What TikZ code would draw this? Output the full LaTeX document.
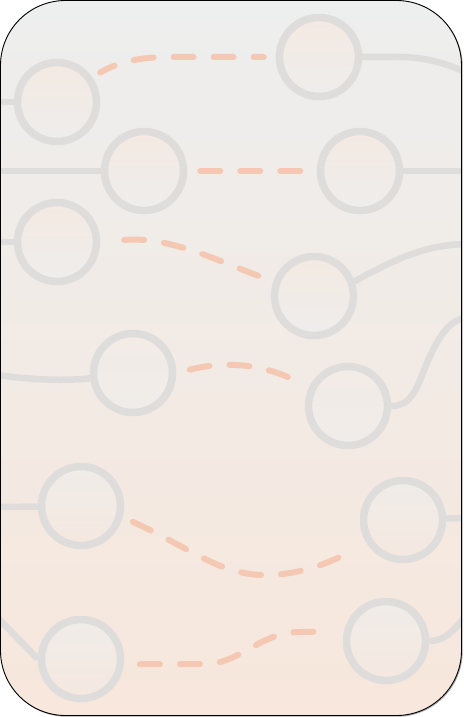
\documentclass[tikz,border=0pt]{standalone}
\definecolor{bgtop}{HTML}{EDEEEE}
\definecolor{bgbot}{HTML}{F7E7DC}
\definecolor{ring}{HTML}{DEDDDC}
\definecolor{dashc}{HTML}{F4C8B3}
\tikzset{
  hub/.style={circle, minimum size=79pt, inner sep=0pt, line width=7.5pt, draw=ring},
  hubA/.style={hub, top color={rgb,255:red,244;green,233;blue,226}, bottom color={rgb,255:red,238;green,237;blue,236}},
  hubB/.style={hub, top color={rgb,255:red,242;green,235;blue,230}, bottom color={rgb,255:red,240;green,236;blue,233}},
  hubC/.style={hub, top color={rgb,255:red,240;green,236;blue,233}, bottom color={rgb,255:red,245;green,232;blue,224}},
  wire/.style={draw=ring, line width=6.5pt},
  link/.style={draw=dashc, line width=6pt, line cap=round, dash pattern=on 20pt off 20pt},
}
\begin{document}
\begin{tikzpicture}[x=1pt,y=-1pt]
\useasboundingbox (0,0) rectangle (463,717);
% shadow and background
\draw[black!35, line width=1pt, rounded corners=65pt] (1.6,1.6) rectangle (462.2,716.2);
\fill[top color=bgtop, bottom color=bgbot, rounded corners=65pt] (0.5,0.5) rectangle (461.5,715.5);
\begin{scope}
\clip[rounded corners=65pt] (0.5,0.5) rectangle (461.5,715.5);
% circles
\node[hubA] (c1) at (57,102) {};
\node[hubA] (c2) at (319,57) {};
\node[hubA] (c3) at (144,171) {};
\node[hubA] (c4) at (360,171) {};
\node[hubA] (c5) at (57,242) {};
\node[hubA] (c6) at (314,296) {};
\node[hubB] (c7) at (133,373) {};
\node[hubB] (c8) at (348,406) {};
\node[hubC] (c9) at (81,506) {};
\node[hubC] (c10) at (403,520) {};
\node[hubC] (c11) at (81,659) {};
\node[hubC] (c12) at (386,641) {};
% edge coordinates
\coordinate (e1) at (-2,102);
\coordinate (e2) at (465,72);
\coordinate (e3) at (-2,171);
\coordinate (e4) at (465,171);
\coordinate (e5) at (-2,242);
\coordinate (e6) at (465,244);
\coordinate (e7) at (-2,375);
\coordinate (e8) at (465,318);
\coordinate (e9) at (-2,507);
\coordinate (e10) at (465,518);
\coordinate (e11) at (-2,618);
\coordinate (e12) at (465,616);
% gray wires
\draw[wire] (e1) -- (c1);
\draw[wire] (c2.east) -- (398,57) .. controls (425,57) and (445,63) .. (e2);
\draw[wire] (e3) -- (c3);
\draw[wire] (c4) -- (e4);
\draw[wire] (e5) -- (c5);
\draw[wire] (c6.20) .. controls (385,265) and (420,245) .. (e6);
\draw[wire] (e7) .. controls (30,380) and (70,381) .. (c7.187);
\draw[wire] (c8.east) .. controls (415,406) and (418,382) .. (430,356) .. controls (440,335) and (450,320) .. (e8);
\draw[wire] (e9) -- (c9);
\draw[wire] (c10) -- (e10);
\draw[wire] (e11) -- (c11.west);
\draw[wire] (c12.east) .. controls (445,641) and (455,630) .. (e12);
% dashed links
\draw[link, dash phase=4pt, shorten <=9pt, shorten >=12pt] (c1.35) .. controls (118,62) and (140,57) .. (170,57) -- (c2.west);
\draw[link, shorten <=13pt, shorten >=13pt] (c3.east) -- (c4.west);
\draw[link, shorten <=24pt, shorten >=12pt] (c5.east) .. controls (170,236) and (220,262) .. (c6.160);
\draw[link, shorten <=14pt, shorten >=14pt] (c7.east) .. controls (220,362) and (260,362) .. (c8.155);
\draw[link, shorten <=11pt, shorten >=14pt] (c9.-15) .. controls (190,548) and (220,575) .. (265,575) .. controls (300,575) and (330,563) .. (c10.212);
\draw[link, shorten <=16pt, shorten >=12pt] (c11.-7) -- (205,664) .. controls (240,664) and (260,632) .. (300,632) -- (c12.167);
\end{scope}
\draw[black, line width=0.9pt, rounded corners=65pt] (0.5,0.5) rectangle (461.5,715.5);
\end{tikzpicture}
\end{document}
